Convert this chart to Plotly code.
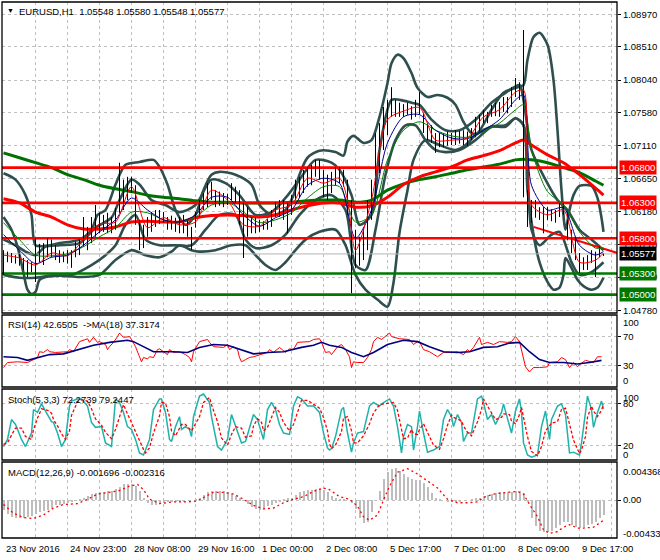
import plotly.graph_objects as go

W, H = 660, 560
FONT = "Liberation Sans"

# ------------------------------------------------------------------ data
# price bars (every second H1 bar), bar index 0 = 23 Nov 2016
bar_x = list(range(0, 301, 2))
bar_high = [
    1.0563, 1.0561, 1.0559, 1.0556, 1.0558, 1.0552, 1.0549, 1.0546, 1.0580, 1.0572,
    1.0573, 1.0580, 1.0578, 1.0570, 1.0563, 1.0561, 1.0563, 1.0563, 1.0575, 1.0578,
    1.0610, 1.0596, 1.0610, 1.0627, 1.0616, 1.0613, 1.0616, 1.0610, 1.0623, 1.0687,
    1.0663, 1.0667, 1.0667, 1.0655, 1.0606, 1.0599, 1.0610, 1.0617, 1.0620, 1.0620,
    1.0617, 1.0610, 1.0612, 1.0609, 1.0610, 1.0613, 1.0606, 1.0596, 1.0617, 1.0634,
    1.0644, 1.0658, 1.0660, 1.0648, 1.0646, 1.0644, 1.0643, 1.0658, 1.0653, 1.0648,
    1.0630, 1.0624, 1.0610, 1.0609, 1.0606, 1.0604, 1.0607, 1.0620, 1.0631, 1.0634,
    1.0634, 1.0630, 1.0641, 1.0663, 1.0667, 1.0677, 1.0681, 1.0684, 1.0691, 1.0691,
    1.0677, 1.0670, 1.0674, 1.0680, 1.0681, 1.0677, 1.0663, 1.0634, 1.0592, 1.0582,
    1.0595, 1.0634, 1.0663, 1.0729, 1.0743, 1.0766, 1.0776, 1.0794, 1.0776, 1.0772,
    1.0770, 1.0772, 1.0767, 1.0776, 1.0787, 1.0757, 1.0743, 1.0740, 1.0729, 1.0729,
    1.0729, 1.0731, 1.0729, 1.0733, 1.0732, 1.0733, 1.0731, 1.0736, 1.0752, 1.0755,
    1.0762, 1.0759, 1.0769, 1.0772, 1.0773, 1.0780, 1.0780, 1.0794, 1.0807, 1.0801,
    1.0875, 1.0648, 1.0634, 1.0634, 1.0624, 1.0624, 1.0624, 1.0621, 1.0620, 1.0630,
    1.0630, 1.0620, 1.0592, 1.0582, 1.0559, 1.0553, 1.0556, 1.0563, 1.0561, 1.0568,
    1.0558]
bar_low = [
    1.0528, 1.0546, 1.0545, 1.0544, 1.0541, 1.0535, 1.0525, 1.0532, 1.0518, 1.0546,
    1.0542, 1.0553, 1.0553, 1.0549, 1.0545, 1.0546, 1.0544, 1.0538, 1.0553, 1.0556,
    1.0568, 1.0563, 1.0573, 1.0582, 1.0587, 1.0589, 1.0587, 1.0587, 1.0592, 1.0616,
    1.0620, 1.0634, 1.0644, 1.0599, 1.0563, 1.0566, 1.0582, 1.0589, 1.0596, 1.0600,
    1.0602, 1.0592, 1.0592, 1.0589, 1.0587, 1.0587, 1.0582, 1.0563, 1.0595, 1.0610,
    1.0620, 1.0624, 1.0634, 1.0624, 1.0626, 1.0624, 1.0627, 1.0634, 1.0630, 1.0599,
    1.0552, 1.0582, 1.0587, 1.0587, 1.0589, 1.0592, 1.0592, 1.0596, 1.0610, 1.0610,
    1.0606, 1.0587, 1.0613, 1.0634, 1.0637, 1.0644, 1.0653, 1.0655, 1.0667, 1.0663,
    1.0638, 1.0634, 1.0644, 1.0654, 1.0658, 1.0653, 1.0613, 1.0502, 1.0538, 1.0541,
    1.0549, 1.0563, 1.0606, 1.0638, 1.0672, 1.0705, 1.0726, 1.0752, 1.0752, 1.0752,
    1.0752, 1.0755, 1.0748, 1.0752, 1.0755, 1.0729, 1.0719, 1.0715, 1.0701, 1.0709,
    1.0709, 1.0711, 1.0712, 1.0712, 1.0714, 1.0712, 1.0711, 1.0719, 1.0723, 1.0731,
    1.0743, 1.0743, 1.0752, 1.0753, 1.0752, 1.0759, 1.0757, 1.0766, 1.0780, 1.0776,
    1.0638, 1.0596, 1.0602, 1.0609, 1.0606, 1.0587, 1.0606, 1.0604, 1.0602, 1.0610,
    1.0613, 1.0577, 1.0559, 1.0549, 1.0531, 1.0535, 1.0535, 1.0545, 1.0525, 1.0553,
    1.05548]

# fast moving average (thin red)
fast_x = [0, 8, 16, 24, 32, 40, 48, 56, 64, 72, 80, 88, 96, 104, 112, 120, 128, 136, 144, 152,
          160, 168, 172, 176, 184, 192, 200, 208, 216, 224, 232, 240, 248, 256, 260, 262, 264, 272, 280, 288,
          296, 300]
fast_ma = [1.0556, 1.0552, 1.0542, 1.0559, 1.0555, 1.0578, 1.0600, 1.0603, 1.0653, 1.0595,
           1.0609, 1.0599, 1.0603, 1.0648, 1.0634, 1.0599, 1.0597, 1.0620, 1.0627, 1.0665,
           1.0658, 1.0665, 1.0634, 1.0563, 1.0634, 1.0748, 1.0760, 1.0765, 1.0719, 1.0719,
           1.0722, 1.0752, 1.0762, 1.0787, 1.0790, 1.0680, 1.0627, 1.0613, 1.0620, 1.0546,
           1.0549, 1.0559]

# sample bars for the slower averages
ma_x = [0, 8, 16, 24, 32, 40, 48, 56, 64, 72, 80, 88, 96, 104, 112, 120, 128, 136, 144, 152,
        160, 168, 176, 184, 192, 200, 208, 216, 224, 232, 240, 248, 256, 260, 264, 272, 280, 288, 296, 300]
blue_ma = [1.0585, 1.0563, 1.0544, 1.0553, 1.0556, 1.0570, 1.0589, 1.0606, 1.0637, 1.0620,
           1.0606, 1.0603, 1.0613, 1.0638, 1.0638, 1.0613, 1.0597, 1.0609, 1.0620, 1.0655,
           1.0665, 1.0658, 1.0580, 1.0620, 1.0715, 1.0752, 1.0755, 1.0733, 1.0722, 1.0721,
           1.0733, 1.0748, 1.0776, 1.0783, 1.0655, 1.0620, 1.0623, 1.0570, 1.0556, 1.0561]
green_ma = [1.0602, 1.0578, 1.0556, 1.0555, 1.0558, 1.0568, 1.0582, 1.0595, 1.0617, 1.0616,
            1.0606, 1.0603, 1.0610, 1.0627, 1.0631, 1.0617, 1.0602, 1.0606, 1.0616, 1.0637,
            1.0653, 1.0653, 1.0603, 1.0613, 1.0691, 1.0733, 1.0745, 1.0733, 1.0725, 1.0723,
            1.0731, 1.0743, 1.0762, 1.0769, 1.0705, 1.0646, 1.0627, 1.0589, 1.0566, 1.0566]
red_ma_slow = [1.0636, 1.0630, 1.0617, 1.0610, 1.0599, 1.0593, 1.0593, 1.0596, 1.0603, 1.0604,
               1.0603, 1.0603, 1.0609, 1.0612, 1.0613, 1.0612, 1.0610, 1.0613, 1.0620, 1.0626,
               1.0630, 1.0630, 1.0624, 1.0626, 1.0638, 1.0656, 1.0667, 1.0674, 1.0681, 1.0691,
               1.0697, 1.0704, 1.0715, 1.0719, 1.0712, 1.0698, 1.0687, 1.0670, 1.0651, 1.0641]
green_ma_slow = [1.0701, 1.0694, 1.0687, 1.0680, 1.0670, 1.0663, 1.0655, 1.0650, 1.0646, 1.0641,
                 1.0638, 1.0636, 1.0633, 1.0631, 1.0631, 1.0630, 1.0630, 1.0630, 1.0631, 1.0633,
                 1.0634, 1.0634, 1.0631, 1.0634, 1.0648, 1.0657, 1.0663, 1.0667, 1.0672, 1.0677,
                 1.0681, 1.0685, 1.0691, 1.0692, 1.0691, 1.0687, 1.0680, 1.0673, 1.0661, 1.0655]

# envelope / band lines (dark slate)
band_out_up_x = [0, 6, 11, 14, 16, 21, 28, 38, 44, 47, 51, 56, 61, 68, 75, 78, 82, 86, 91, 96,
                 100, 104, 108, 116, 124, 128, 134, 141, 145, 148, 152, 158, 166, 170, 172, 175, 180, 184, 188, 192,
                 194, 197, 200, 204, 207, 212, 217, 222, 226, 230, 234, 237, 244, 250, 257, 260, 262, 265, 268, 272,
                 275, 277, 279, 281, 283, 285, 288, 294, 297, 299, 300]
band_out_up = [1.0672, 1.0663, 1.0641, 1.0613, 1.0570, 1.0569, 1.0573, 1.0578, 1.0592, 1.0613,
               1.0620, 1.0656, 1.0684, 1.0688, 1.0691, 1.0681, 1.0656, 1.0620, 1.0599, 1.0613,
               1.0648, 1.0670, 1.0674, 1.0670, 1.0656, 1.0627, 1.0613, 1.0620, 1.0641, 1.0670,
               1.0694, 1.0704, 1.0702, 1.0697, 1.0717, 1.0725, 1.0715, 1.0719, 1.0752, 1.0800,
               1.0828, 1.0840, 1.0835, 1.0814, 1.0793, 1.0780, 1.0783, 1.0779, 1.0769, 1.0745,
               1.0729, 1.0729, 1.0762, 1.0786, 1.0794, 1.0797, 1.0833, 1.0865, 1.0871, 1.0854,
               1.0804, 1.0733, 1.0648, 1.0592, 1.0620, 1.0641, 1.0654, 1.0654, 1.0637, 1.0609,
               1.0589]
band_out_lo_x = [0, 4, 7, 10, 12, 14, 16, 18, 21, 28, 38, 48, 56, 64, 71, 78, 84, 88, 94, 98,
                 106, 114, 121, 126, 131, 136, 141, 146, 151, 158, 166, 171, 176, 181, 187, 192, 195, 198, 202, 205,
                 211, 218, 226, 231, 236, 244, 251, 256, 260, 262, 265, 268, 272, 275, 278, 280, 281, 284, 287, 290,
                 294, 297, 300]
band_out_lo = [1.0610, 1.0592, 1.0568, 1.0531, 1.0507, 1.0501, 1.0504, 1.0521, 1.0525, 1.0527,
               1.0525, 1.0528, 1.0549, 1.0563, 1.0556, 1.0553, 1.0561, 1.0570, 1.0563, 1.0561,
               1.0563, 1.0570, 1.0570, 1.0556, 1.0542, 1.0535, 1.0546, 1.0563, 1.0578, 1.0589,
               1.0592, 1.0570, 1.0528, 1.0507, 1.0493, 1.0483, 1.0517, 1.0588, 1.0648, 1.0691,
               1.0719, 1.0712, 1.0705, 1.0712, 1.0726, 1.0738, 1.0738, 1.0750, 1.0740, 1.0648,
               1.0585, 1.0546, 1.0518, 1.0507, 1.0510, 1.0528, 1.0552, 1.0538, 1.0521, 1.0512,
               1.0507, 1.0510, 1.0524]
band_in_up_x = [0, 6, 11, 16, 21, 28, 38, 46, 54, 58, 64, 68, 74, 81, 88, 96, 104, 111, 118, 126,
                134, 141, 148, 156, 164, 168, 174, 178, 184, 188, 194, 198, 204, 208, 214, 221, 228, 236, 244, 251,
                258, 260, 264, 271, 277, 282, 288, 294, 300]
band_in_up = [1.0578, 1.0570, 1.0561, 1.0556, 1.0568, 1.0570, 1.0573, 1.0595, 1.0609, 1.0634,
              1.0663, 1.0656, 1.0634, 1.0627, 1.0617, 1.0627, 1.0663, 1.0658, 1.0641, 1.0613,
              1.0617, 1.0637, 1.0663, 1.0691, 1.0687, 1.0677, 1.0641, 1.0599, 1.0613, 1.0705,
              1.0776, 1.0776, 1.0772, 1.0769, 1.0748, 1.0733, 1.0733, 1.0748, 1.0772, 1.0786,
              1.0797, 1.0776, 1.0705, 1.0663, 1.0634, 1.0620, 1.0592, 1.0578, 1.0563]
band_in_lo_x = [0, 8, 16, 24, 34, 44, 51, 56, 61, 66, 71, 78, 86, 94, 101, 108, 116, 121, 126, 134,
                141, 148, 156, 164, 171, 176, 181, 186, 191, 196, 201, 206, 211, 216, 221, 228, 236, 244, 251, 256,
                260, 264, 268, 274, 278, 284, 288, 294, 300]
band_in_lo = [1.0528, 1.0524, 1.0524, 1.0527, 1.0528, 1.0542, 1.0556, 1.0570, 1.0599, 1.0613,
              1.0578, 1.0570, 1.0570, 1.0570, 1.0592, 1.0613, 1.0613, 1.0578, 1.0566, 1.0570,
              1.0585, 1.0613, 1.0634, 1.0641, 1.0620, 1.0542, 1.0535, 1.0592, 1.0670, 1.0719,
              1.0740, 1.0740, 1.0719, 1.0705, 1.0702, 1.0705, 1.0719, 1.0738, 1.0740, 1.0750,
              1.0740, 1.0592, 1.0570, 1.0585, 1.0589, 1.0546, 1.0528, 1.0532, 1.0546]

levels_red = [1.0680, 1.0630, 1.0580]
levels_green = [1.0530, 1.0500]
last_price = 1.05577
trend_x = [265, 307]
trend_y = [1.0596, 1.0559]

price_ticks = [1.0897, 1.0851, 1.0804, 1.0758, 1.0711, 1.0665, 1.0618, 1.0571, 1.0525, 1.0478]
price_tick_text = ["1.08970", "1.08510", "1.08040", "1.07580", "1.07110",
                   "1.06650", "1.06180", "1.05710", "1.05250", "1.04780"]
price_range = [1.04740, 1.09147]

# RSI(14) and its MA(18)
rsi_x = [0, 2, 7, 12, 15, 17, 18, 20, 22, 23,
         26, 28, 32, 33, 35, 38, 42, 43, 45, 47,
         48, 51, 52, 53, 55, 57, 58, 60, 63, 64,
         66, 68, 69, 70, 72, 73, 75, 77, 78, 80,
         82, 83, 85, 88, 91, 93, 94, 95, 98, 102,
         103, 105, 108, 110, 112, 113, 115, 117, 118, 119,
         121, 123, 125, 128, 132, 133, 135, 138, 141, 143,
         145, 147, 150, 153, 155, 158, 159, 161, 163, 164,
         167, 169, 171, 173, 174, 175, 177, 180, 182, 184,
         185, 187, 189, 191, 193, 194, 198, 203, 205, 207,
         208, 210, 213, 217, 220, 223, 227, 230, 232, 233,
         235, 238, 239, 242, 245, 248, 252, 254, 256, 258,
         259, 261, 263, 265, 268, 272, 273, 274, 277, 279,
         281, 283, 285, 287, 288, 291, 294, 295, 297, 299]
rsi_val = [27, 34, 35, 34, 38, 41, 49, 48, 52, 49,
           48, 48, 49, 52, 49, 63, 67, 62, 69, 62,
           63, 59, 52, 56, 62, 70, 75, 69, 70, 66,
           56, 42, 35, 41, 39, 42, 41, 52, 53, 49,
           45, 52, 48, 49, 45, 41, 35, 49, 63, 66,
           62, 56, 56, 55, 59, 52, 56, 52, 41, 35,
           38, 41, 42, 45, 48, 52, 48, 55, 48, 53,
           52, 62, 62, 63, 66, 67, 62, 48, 49, 45,
           56, 59, 52, 42, 27, 35, 34, 34, 41, 52,
           63, 69, 66, 70, 75, 70, 67, 66, 59, 63,
           63, 52, 49, 42, 48, 48, 49, 45, 52, 49,
           55, 69, 59, 62, 59, 63, 62, 63, 70, 63,
           52, 28, 21, 27, 27, 28, 34, 34, 35, 41,
           38, 27, 34, 28, 31, 37, 35, 34, 42, 42]
rsi_ma_x = [0, 7, 12, 17, 23, 30, 37, 45, 53, 62, 65, 70, 75, 85, 92, 98, 105, 112, 119, 125,
            132, 140, 149, 155, 159, 163, 169, 174, 180, 185, 192, 200, 207, 213, 220, 227, 233, 240, 247, 253,
            258, 263, 268, 273, 280, 287, 293, 299]
rsi_ma = [42, 41, 37, 41, 45, 46, 52, 58, 62, 65, 63, 56, 49, 49, 48, 55, 59, 58, 52, 46,
          48, 49, 55, 58, 62, 58, 55, 48, 42, 48, 59, 65, 63, 56, 49, 48, 49, 55, 56, 61,
          62, 49, 38, 34, 34, 32, 34, 37]

# Stochastic(5,3,3)
stoch_x = [0, 2, 4, 6, 9, 11, 14, 15, 17, 19,
           22, 24, 25, 27, 29, 31, 33, 34, 37, 39,
           42, 44, 46, 49, 51, 54, 56, 58, 60, 62,
           64, 66, 68, 70, 71, 73, 75, 78, 79, 81,
           83, 84, 86, 88, 89, 91, 93, 94, 95, 98,
           100, 103, 104, 107, 109, 112, 114, 116, 119, 121,
           124, 125, 127, 129, 130, 132, 134, 136, 138, 140,
           143, 145, 147, 149, 152, 155, 158, 160, 162, 163,
           164, 166, 169, 170, 172, 174, 175, 177, 180, 183,
           185, 188, 190, 193, 195, 197, 199, 200, 202, 204,
           205, 207, 208, 210, 212, 215, 218, 220, 222, 224,
           225, 227, 229, 230, 232, 234, 237, 239, 240, 242,
           244, 246, 249, 250, 253, 254, 256, 258, 259, 260,
           262, 264, 267, 269, 271, 273, 274, 277, 279, 281,
           283, 285, 288, 289, 291, 292, 294, 295, 297, 299,
           300]
stoch_k = [19, 29, 57, 50, 29, 19, 38, 71, 67, 79,
           64, 54, 53, 38, 19, 29, 76, 83, 86, 86,
           76, 53, 46, 47, 24, 19, 86, 81, 67, 47,
           43, 29, 10, 7, 14, 29, 71, 86, 86, 67,
           29, 26, 47, 61, 43, 47, 43, 33, 61, 90,
           93, 81, 61, 19, 14, 29, 64, 47, 24, 26,
           53, 64, 57, 38, 29, 71, 81, 71, 50, 38,
           36, 76, 89, 86, 76, 76, 67, 38, 17, 14,
           16, 33, 71, 74, 38, 11, 24, 38, 40, 76,
           81, 76, 81, 86, 76, 47, 10, 33, 50, 47,
           14, 47, 69, 38, 11, 14, 19, 57, 71, 61,
           47, 64, 53, 26, 38, 38, 86, 90, 81, 57,
           64, 50, 67, 79, 47, 38, 69, 86, 67, 24,
           7, 4, 7, 47, 69, 29, 57, 76, 79, 64,
           10, 11, 7, 24, 67, 90, 71, 46, 67, 83,
           72]
stoch_d = [22, 24, 35, 45, 45, 33, 29, 43, 59, 72,
           70, 66, 57, 48, 37, 29, 41, 63, 82, 85,
           83, 72, 58, 49, 39, 30, 43, 62, 78, 65,
           52, 40, 27, 15, 10, 17, 38, 62, 81, 80,
           61, 41, 34, 45, 50, 50, 44, 41, 46, 61,
           81, 88, 78, 54, 31, 21, 36, 47, 45, 32,
           34, 48, 58, 53, 41, 46, 60, 74, 67, 53,
           41, 50, 67, 84, 84, 79, 73, 60, 41, 23,
           16, 21, 40, 59, 61, 41, 24, 24, 34, 51,
           66, 78, 79, 81, 81, 70, 44, 30, 31, 43,
           37, 36, 43, 51, 39, 21, 15, 30, 49, 63,
           60, 57, 55, 48, 39, 34, 54, 71, 86, 76,
           67, 57, 60, 65, 64, 55, 51, 64, 74, 59,
           33, 12, 6, 19, 41, 48, 52, 54, 71, 73,
           51, 28, 9, 14, 33, 60, 76, 69, 61, 70,
           79]

# MACD(12,26,9): histogram per plotted bar (x bar_x) and signal, in units of 1e-4
macd_hist = [-11, -16, -19, -20, -20, -20, -19, -18, -16, -14,
             -12, -11, -9, -6, -5, -4, -3, -1, 0, 1,
             3, 5, 7, 8, 9, 9, 10, 11, 13, 15,
             18, 18, 18, 16, 11, 3, -3, -5, -5, -4,
             -3, -2, -2, -1, -1, -1, 0, 0, 1, 3,
             6, 9, 10, 10, 10, 10, 9, 7, 5, 2,
             0, -4, -8, -10, -11, -9, -7, -5, -3, -1,
             1, 2, 3, 6, 9, 10, 12, 12, 13, 13,
             12, 9, 5, 2, 1, 1, 0, -3, -10, -20,
             -26, -25, -13, 0, 10, 24, 32, 36, 37, 33,
             30, 27, 24, 23, 23, 20, 15, 8, 3, 1,
             0, -1, -1, -1, -1, 0, 0, 1, 2, 3,
             5, 6, 7, 8, 9, 9, 9, 9, 10, 10,
             8, -1, -20, -30, -35, -36, -36, -35, -32, -29,
             -25, -25, -28, -31, -32, -31, -29, -27, -25, -21,
             -17]
macd_sig_x = [0, 5, 10, 15, 20, 25, 30, 37, 42, 47, 53, 58, 63, 67, 70, 73, 78, 85, 92, 97,
              100, 105, 110, 115, 120, 125, 130, 135, 140, 145, 150, 155, 160, 163, 168, 173, 177, 180, 183, 187,
              190, 193, 197, 202, 207, 212, 217, 222, 227, 232, 237, 240, 245, 252, 257, 260, 263, 267, 270, 273,
              277, 280, 283, 287, 290, 295, 298, 300]
macd_sig = [-5, -15, -20, -21, -17, -9, -5, -4, 1, 7, 9, 11, 16, 18, 12, 1, -4, -2, -2, -1,
            3, 9, 9, 7, 1, -6, -10, -9, -3, 1, 4, 10, 14, 12, 4, 1, -7, -19, -23, -17,
            0, 16, 32, 36, 30, 22, 14, 1, -3, -3, -2, 3, 7, 9, 10, 7, -5, -19, -34, -38,
            -36, -31, -28, -32, -32, -31, -26, -23]
macd_range = [-0.004335, 0.004368]

time_tick_bars = [0, 32, 64, 96, 128, 160, 192, 224, 256, 288]
time_tick_labels = ["23 Nov 2016", "24 Nov 23:00", "28 Nov 08:00", "29 Nov 16:00", "1 Dec 00:00",
                    "2 Dec 08:00", "5 Dec 17:00", "7 Dec 01:00", "8 Dec 09:00", "9 Dec 17:00"]
x_range = [-0.75, 306.75]

# ------------------------------------------------------------------ helpers
def xp(px):
    return px / W


def yp(py):
    return 1 - py / H


P_MAIN, P_RSI, P_STO, P_MACD = (2, 313), (315, 387), (389, 460), (462, 538)
PX_L, PX_R = 2, 617
GRID = "#c0c0c0"
SLATE = "#2f4f4f"

fig = go.Figure()


def line(x, y, color, width, ax="", shape="linear", dash="solid"):
    ln = dict(color=color, width=width, shape=shape, dash=dash)
    if shape == "spline":
        ln["smoothing"] = 0.8
    fig.add_trace(go.Scatter(
        x=x, y=y, mode="lines", xaxis="x" + ax, yaxis="y" + ax,
        line=ln, hoverinfo="skip", showlegend=False))


# main price panel
for bx, by in [(band_out_up_x, band_out_up), (band_out_lo_x, band_out_lo),
               (band_in_up_x, band_in_up), (band_in_lo_x, band_in_lo)]:
    line(bx, by, SLATE, 2.6, shape="spline")
line(ma_x, green_ma_slow, "#007000", 3, shape="spline")
line(ma_x, red_ma_slow, "#ff0000", 3, shape="spline")

# horizontal levels and last-price line across the full axis range
for lv in levels_red:
    line(x_range, [lv, lv], "#ff0000", 2.6)
for lv in levels_green:
    line(x_range, [lv, lv], "#007800", 2.6)
line(x_range, [last_price, last_price], "#b4b4b4", 1)
line(trend_x, trend_y, "#ff0000", 2)

seg_x, seg_y = [], []
for xi, hi, lo in zip(bar_x, bar_high, bar_low):
    seg_x += [xi, xi, None]
    seg_y += [lo, hi, None]
line(seg_x, seg_y, "#000000", 1)
line(ma_x, green_ma, "#008000", 1, shape="spline")
line(ma_x, blue_ma, "#00008b", 1, shape="spline")
line(fast_x, fast_ma, "#ff0000", 1, shape="spline")

# RSI
line(rsi_x, rsi_val, "#ff0000", 1, ax="2")
line(rsi_ma_x, rsi_ma, "#000080", 1.6, ax="2")

# Stochastic
line(stoch_x, stoch_k, "#20b2aa", 1.5, ax="3")
line(stoch_x, stoch_d, "#ff0000", 1.3, ax="3", dash="3px,2px")

# MACD
fig.add_trace(go.Bar(x=bar_x, y=[v * 1e-4 for v in macd_hist], xaxis="x4", yaxis="y4",
                     width=1.0, marker=dict(color="#bdbdbd", line=dict(width=0)),
                     hoverinfo="skip", showlegend=False))
line(macd_sig_x, [v * 1e-4 for v in macd_sig], "#ff0000", 1.3, ax="4", dash="2px,3px")

# ------------------------------------------------------------------ axes
tick_font = dict(family=FONT, size=9.5, color="#000000")
grid_x = list(range(16, 307, 16))
layout = dict(
    width=W, height=H, margin=dict(l=0, r=0, t=0, b=0, autoexpand=False),
    paper_bgcolor="white", plot_bgcolor="white", showlegend=False, bargap=0,
)
panels = [("", P_MAIN, price_range), ("2", P_RSI, [0, 100]), ("3", P_STO, [0, 100]), ("4", P_MACD, macd_range)]
for ax, (top, bot), rng in panels:
    xa = dict(
        domain=[xp(PX_L), xp(PX_R)], range=x_range, anchor="y" + ax,
        tickmode="array", tickvals=grid_x, showticklabels=False, ticks="",
        showgrid=True, gridcolor=GRID, griddash="3px,3px", gridwidth=1,
        zeroline=False, showline=False, fixedrange=True)
    if ax:
        xa["matches"] = "x"
    layout["xaxis" + ax] = xa
    layout["yaxis" + ax] = dict(
        domain=[yp(bot), yp(top)], range=rng, anchor="x" + ax, side="right",
        showgrid=True, gridcolor=GRID, griddash="3px,3px", gridwidth=1,
        zeroline=False, showline=False, ticks="outside", ticklen=3, tickcolor="#000000",
        tickfont=tick_font, fixedrange=True, tickmode="array")

layout["yaxis"].update(tickvals=price_ticks, ticktext=price_tick_text)
layout["yaxis2"].update(tickvals=[30, 70], ticktext=["30", "70"])
layout["yaxis3"].update(tickvals=[20, 80], ticktext=["20", "80"])
layout["yaxis4"].update(tickvals=[0], ticktext=["0.00"])
fig.update_layout(**layout)

# ------------------------------------------------------------------ panel frames
shapes = []
for _, (top, bot), _ in panels:
    shapes.append(dict(type="rect", xref="paper", yref="paper", x0=xp(PX_L), x1=xp(PX_R),
                       y0=yp(bot), y1=yp(top), line=dict(color="#000000", width=1.3),
                       fillcolor="rgba(0,0,0,0)", layer="above"))
fig.update_layout(shapes=shapes)

# ------------------------------------------------------------------ annotations
ann = []
txt_font = dict(family=FONT, size=9.5, color="#000000")


def note(text, x, y, xref="paper", yref="paper", xanchor="left", yanchor="middle", font=None, **kw):
    ann.append(dict(text=text, x=x, y=y, xref=xref, yref=yref, xanchor=xanchor, yanchor=yanchor,
                    showarrow=False, font=font or txt_font, **kw))


note("\u25bc", xp(5), yp(10.5), font=dict(family=FONT, size=7, color="#000000"))
note("EURUSD,H1\u00a0\u00a01.05548 1.05580 1.05548 1.05577", xp(17), yp(11))
note("RSI(14) 42.6505\u00a0\u00a0->MA(18) 37.3174", xp(6), yp(324))
note("Stoch(5,3,3) 72.2739 79.2447", xp(6), yp(399))
note("MACD(12,26,9) -0.001696 -0.002316", xp(6), yp(472.5))

# edge labels of the indicator scales
note("100", xp(621), yp(322))
note("0", xp(621), yp(380))
note("100", xp(621), yp(397))
note("0", xp(621), yp(454))
note("0.004368", xp(621), yp(471))
note("-0.004335", xp(621), yp(533))

# price level tags
lab_font = dict(family=FONT, size=9.5, color="#ffffff")
for lv in levels_red:
    note(f"{lv:.5f}", xp(619), lv, yref="y", font=lab_font, bgcolor="#ff0000", borderpad=1)
for lv in levels_green:
    note(f"{lv:.5f}", xp(619), lv, yref="y", font=lab_font, bgcolor="#007800", borderpad=1)
note(f"{last_price:.5f}", xp(619), last_price, yref="y", font=lab_font, bgcolor="#000000", borderpad=1)

# time axis labels
for b, t in zip(time_tick_bars, time_tick_labels):
    note(t, b, yp(548.5), xref="x4", xanchor="left")

fig.update_layout(annotations=ann)
fig.write_html("out.html", config={"displayModeBar": False},
               post_script="document.body.style.margin='0px';document.body.style.overflow='hidden';")
